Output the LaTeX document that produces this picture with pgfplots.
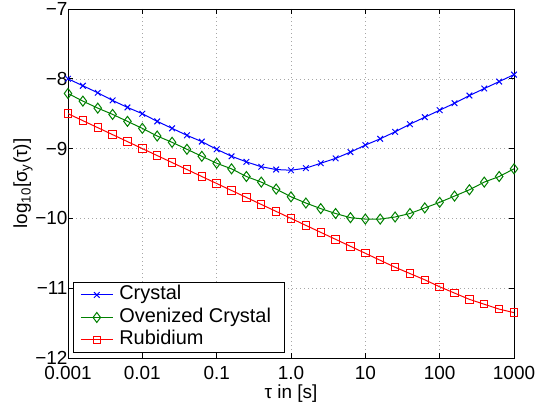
\documentclass[border=0pt]{standalone}
\usepackage{pgfplots}
\pgfplotsset{compat=1.18}
\usepackage{fontspec}
\setmainfont{Liberation Sans}
\definecolor{mblue}{rgb}{0,0,1}
\definecolor{mgreen}{rgb}{0,0.5,0}
\definecolor{mred}{rgb}{1,0,0}
\pgfplotstableread{
x y
-3.0 -8.00
-2.8 -8.10
-2.6 -8.20
-2.4 -8.31
-2.2 -8.41
-2.0 -8.50
-1.8 -8.61
-1.6 -8.71
-1.4 -8.81
-1.2 -8.90
-1.0 -9.01
-0.8 -9.11
-0.6 -9.19
-0.4 -9.26
-0.2 -9.30
0.0 -9.31
0.2 -9.28
0.4 -9.21
0.6 -9.14
0.8 -9.05
1.0 -8.95
1.2 -8.86
1.4 -8.76
1.6 -8.65
1.8 -8.55
2.0 -8.45
2.2 -8.35
2.4 -8.24
2.6 -8.14
2.8 -8.04
3.0 -7.94
}\crystal
\pgfplotstableread{
x y
-3.0 -8.21
-2.8 -8.32
-2.6 -8.42
-2.4 -8.51
-2.2 -8.61
-2.0 -8.71
-1.8 -8.82
-1.6 -8.91
-1.4 -9.01
-1.2 -9.11
-1.0 -9.21
-0.8 -9.29
-0.6 -9.40
-0.4 -9.48
-0.2 -9.58
0.0 -9.69
0.2 -9.78
0.4 -9.86
0.6 -9.93
0.8 -9.99
1.0 -10.01
1.2 -10.01
1.4 -9.98
1.6 -9.93
1.8 -9.85
2.0 -9.77
2.2 -9.68
2.4 -9.59
2.6 -9.48
2.8 -9.40
3.0 -9.29
}\oven
\pgfplotstableread{
x y
-3.0 -8.50
-2.8 -8.60
-2.6 -8.70
-2.4 -8.80
-2.2 -8.90
-2.0 -9.00
-1.8 -9.10
-1.6 -9.20
-1.4 -9.30
-1.2 -9.40
-1.0 -9.50
-0.8 -9.60
-0.6 -9.70
-0.4 -9.80
-0.2 -9.90
0.0 -10.00
0.2 -10.10
0.4 -10.20
0.6 -10.30
0.8 -10.40
1.0 -10.50
1.2 -10.60
1.4 -10.70
1.6 -10.79
1.8 -10.88
2.0 -10.98
2.2 -11.07
2.4 -11.16
2.6 -11.23
2.8 -11.30
3.0 -11.35
}\rub
\begin{document}
\begin{tikzpicture}
\begin{axis}[
  name=ax,
  scale only axis,
  width=446bp, height=349bp,
  xmin=-3, xmax=3, ymin=-12, ymax=-7,
  xtick={-3,-2,-1,0,1,2,3},
  xticklabels={0.001,0.01,0.1,1.0,10,100,1000},
  ytick={-12,-11,-10,-9,-8,-7},
  yticklabels={−12,−11,−10,−9,−8,−7},
  tick label style={font=\fontsize{19}{22}\selectfont},
  xticklabel style={inner ysep=0bp, yshift=-8.5bp},
  yticklabel style={inner ysep=0bp, yshift=0bp, xshift=3bp},
  label style={font=\fontsize{19}{22}\selectfont},
  xlabel={τ in [s]},
  ylabel={log\textsubscript{10}[σ\textsubscript{y}(τ)]},
  xlabel style={yshift=-1bp},
  ylabel style={yshift=-4bp},
  grid=major,
  major grid style={gray!70, line width=0.5bp, dash pattern=on 1bp off 3bp},
  major tick length=5bp,
  tick style={black, line width=0.6bp},
  axis line style={line width=0.8bp},
  legend cell align=left,
  legend style={at={(0.011,0.014)}, anchor=south west, font=\fontsize{20}{22}\selectfont,
    draw=black, line width=0.8bp, inner xsep=7bp, inner ysep=1.5bp, row sep=0bp,
    nodes={inner xsep=6bp, inner ysep=2bp, text height=14bp, text depth=4.5bp}},
  legend image code/.code={\draw[mark repeat=2,mark phase=2] plot coordinates {(0bp,0bp) (16bp,0bp) (32bp,0bp)};},
]
\addplot[mblue, line width=1bp, mark=x, mark size=4bp] table {\crystal};
\addlegendentry{Crystal}
\addplot[mgreen, line width=1bp, mark=diamond, mark size=5bp] table {\oven};
\addlegendentry{Ovenized Crystal}
\addplot[mred, line width=1bp, mark=square, mark size=3.7bp] table {\rub};
\addlegendentry{Rubidium}
\end{axis}
\pgfresetboundingbox
\path[use as bounding box] ([shift={(-68bp,-51bp)}]ax.south west) rectangle ([shift={(23bp,9bp)}]ax.north east);
\end{tikzpicture}
\end{document}
